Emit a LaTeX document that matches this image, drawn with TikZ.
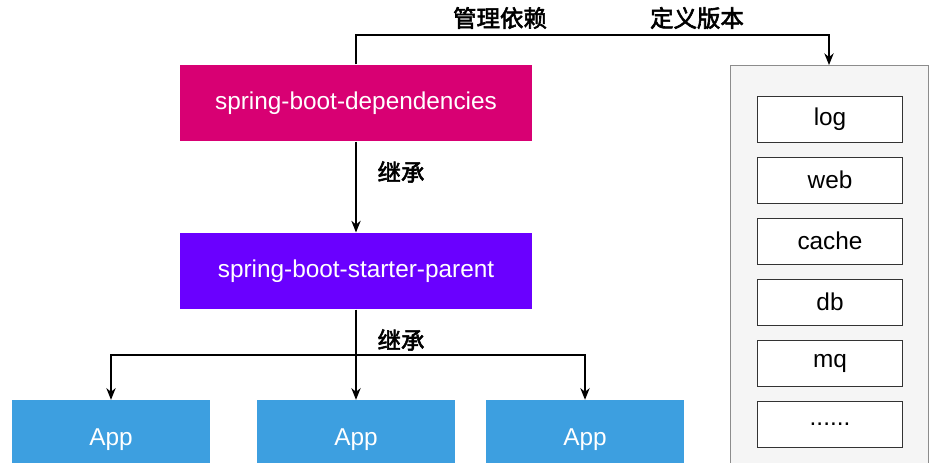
\documentclass[tikz,border=0pt]{standalone}
\usepackage{fontspec}
\setmainfont{Liberation Sans}
\newfontfamily\cjk[FakeBold=2.5]{Noto Sans CJK SC}
\usetikzlibrary{arrows.meta}
\definecolor{dep}{HTML}{D80073}
\definecolor{par}{HTML}{6A00FF}
\definecolor{app}{HTML}{3D9FE0}
\begin{document}
\begin{tikzpicture}[x=0.03cm,y=-0.03cm,
  big/.style={draw=none,minimum width=10.56cm,minimum height=2.3cm,text=white,font=\fontsize{20.8}{24}\selectfont},
  item/.style={draw=black!80,fill=white,minimum width=4.35cm,minimum height=1.38cm,font=\fontsize{20.8}{24}\selectfont},
  appb/.style={fill=app,minimum width=5.94cm,minimum height=2.4cm,text=white,font=\fontsize{20.8}{24}\selectfont},
  lab/.style={font=\cjk\fontsize{20}{22}\selectfont},
  arr/.style={-{Stealth[length=10pt,width=8pt]},line width=1pt},
  ln/.style={line width=1pt}]
\useasboundingbox (0,0) rectangle (936,462);
\begin{scope}
\clip (0,0) rectangle (936,462);
\node[big,fill=dep] (dep) at (356,103) {spring-boot-dependencies};
\node[big,fill=par] (par) at (356,271) {spring-boot-starter-parent};
\node[draw=black!45,fill=black!4,minimum width=5.94cm,minimum height=13.5cm,anchor=north] (cont) at (829,65) {};
\node[item] (log) at (830,119) {log};
\node[item] (web) at (830,180) {web};
\node[item] (cache) at (830,241) {cache};
\node[item] (db) at (830,302) {db};
\node[item] (mq) at (830,363) {mq};
\node[item] (more) at (830,424) {......};
\node[appb] (a1) at (111,440) {App};
\node[appb] (a2) at (356,440) {App};
\node[appb] (a3) at (585,440) {App};
\draw[arr] (dep.south) -- (par.north);
\draw[arr] (dep.north) -- (356,35) -| (cont.north);
\coordinate (j) at (356,355);
\draw[ln] (par.south) -- (j);
\draw[arr] (j) -| (a1.north);
\draw[arr] (j) -- (a2.north);
\draw[arr] (j) -| (a3.north);
\node[lab] (l1) at (401,172) {继承};
\node[lab] (l2) at (401,340) {继承};
\node[lab] (l3) at (500,18) {管理依赖};
\node[lab] (l4) at (697,18) {定义版本};
\end{scope}
\end{tikzpicture}
\end{document}
